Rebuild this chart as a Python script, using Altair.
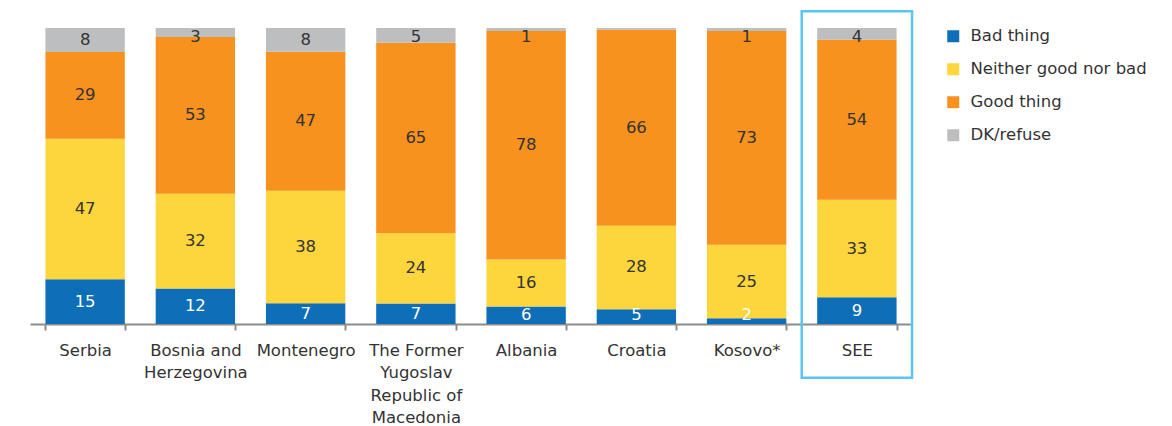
import altair as alt
import pandas as pd

categories = ["Serbia", "Bosnia and\nHerzegovina", "Montenegro",
              "The Former\nYugoslav\nRepublic of\nMacedonia", "Albania",
              "Croatia", "Kosovo*", "SEE"]
series = ["Bad thing", "Neither good nor bad", "Good thing", "DK/refuse"]
bad = [15, 12, 7, 7, 6, 5, 2, 9]
neither = [47, 32, 38, 24, 16, 28, 25, 33]
good = [29, 53, 47, 65, 78, 66, 73, 54]
dk = [8, 3, 8, 5, 1, 0.5, 1, 4]
colors = ["#0E6EB8", "#FDD53C", "#F7921E", "#BCBEC0"]
highlight = "SEE"

FONT = "DejaVu Sans"

rows = []
for i, c in enumerate(categories):
    for j, (s, vals) in enumerate(zip(series, [bad, neither, good, dk])):
        v = vals[i]
        rows.append({"cat": c, "series": s, "order": j, "value": v,
                     "label": str(int(v)) if v >= 1 else ""})
df = pd.DataFrame(rows)

xenc = alt.X("cat:N", sort=categories, title=None,
             scale=alt.Scale(paddingInner=0.28, paddingOuter=0.14),
             axis=alt.Axis(labelExpr="datum.value ? split(datum.value, '\\n') : ''",
                           labelAngle=0, labelFontSize=16.5, labelColor="#333333",
                           labelFont=FONT, labelLineHeight=22.5, labelPadding=12,
                           tickBand="extent", tickSize=6, tickWidth=2,
                           tickColor="#8C8C8C", domainColor="#8C8C8C",
                           domainWidth=2, grid=False))
yscale = alt.Scale(domain=[0, 1])

base = alt.Chart(df).transform_stack(
    stack="value", as_=["y0", "y1"], groupby=["cat"],
    sort=[alt.SortField("order", order="ascending")], offset="normalize"
)

bars = base.mark_bar().encode(
    x=xenc,
    y=alt.Y("y0:Q", scale=yscale, axis=None),
    y2="y1:Q",
    color=alt.Color("series:N", scale=alt.Scale(domain=series, range=colors),
                    legend=alt.Legend(title=None, orient="right", offset=33,
                                      symbolType="square", symbolSize=144,
                                      symbolStrokeWidth=0, labelFontSize=16.5,
                                      labelFont=FONT, labelColor="#333333",
                                      labelLimit=300,
                                      rowPadding=16, labelOffset=9, padding=0)),
)

texts = base.transform_calculate(
    mid="clamp((datum.y0 + datum.y1) / 2, 0.03, 0.97)"
).mark_text(font=FONT, fontSize=16.5, baseline="middle").encode(
    x=alt.X("cat:N", sort=categories),
    y=alt.Y("mid:Q", scale=yscale),
    text="label:N",
    color=alt.condition(alt.datum.series == "Bad thing",
                        alt.value("white"), alt.value("#333333")),
)

box_df = pd.DataFrame({"cat": [highlight], "top": [1.057], "bottom": [-0.182]})
box = alt.Chart(box_df).mark_bar(filled=False, stroke="#5BC5F2", strokeWidth=2.5,
                                 width=alt.RelativeBandSize(1.39)).encode(
    x=alt.X("cat:N", sort=categories),
    y=alt.Y("top:Q", scale=yscale),
    y2="bottom:Q",
)

chart = alt.layer(bars, texts, box).properties(
    width=882, height=296,
    padding={"left": 30, "top": 9, "right": 5, "bottom": 0},
).configure(font=FONT, view=alt.ViewConfig(stroke=None))

chart.save("out.html", embed_options={"renderer": "svg", "actions": False})
